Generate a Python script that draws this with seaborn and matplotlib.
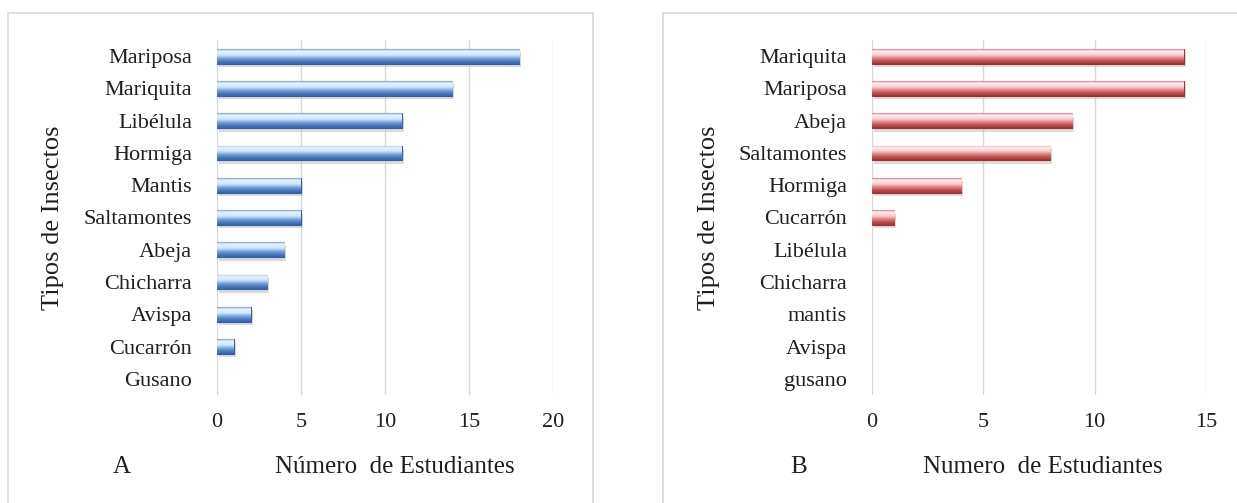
import numpy as np
import pandas as pd
import matplotlib
matplotlib.use("Agg")
import matplotlib.pyplot as plt
import matplotlib.patheffects as pe
from matplotlib.colors import LinearSegmentedColormap
from matplotlib.patches import Rectangle
import seaborn as sns

# panel A
insectos_a = ['Mariposa', 'Mariquita', 'Libélula', 'Hormiga', 'Mantis', 'Saltamontes',
              'Abeja', 'Chicharra', 'Avispa', 'Cucarrón', 'Gusano']
estudiantes_a = [18, 14, 11, 11, 5, 5, 4, 3, 2, 1, 0]
ticks_a = [0, 5, 10, 15, 20]

# panel B
insectos_b = ['Mariquita', 'Mariposa', 'Abeja', 'Saltamontes', 'Hormiga', 'Cucarrón',
              'Libélula', 'Chicharra', 'mantis', 'Avispa', 'gusano']
estudiantes_b = [14, 14, 9, 8, 4, 1, 0, 0, 0, 0, 0]
ticks_b = [0, 5, 10, 15]

sns.set_style('white')
plt.rcParams['font.family'] = ['Liberation Serif', 'DejaVu Serif']
txt = '#1f1f1f'

blue = LinearSegmentedColormap.from_list(
    'azul', [(0, '#6f9ad4'), (0.12, '#e4f5ff'), (0.4, '#cfe9fc'),
             (0.6, '#7fa9e0'), (0.8, '#4d7fc2'), (1, '#3863a3')])
red = LinearSegmentedColormap.from_list(
    'rojo', [(0, '#d67a78'), (0.12, '#fff1f1'), (0.4, '#f6cccc'),
             (0.6, '#dd8583'), (0.8, '#c24e4b'), (1, '#9c3734')])

fig = plt.figure(figsize=(12.37, 5.03), dpi=100)

# light frames around each chart
fig.patches.append(Rectangle((8 / 1237, -0.05), 585 / 1237, 1.05 - 13 / 503,
                             transform=fig.transFigure, fill=False,
                             edgecolor='#d9d9d9', lw=1.2))
fig.patches.append(Rectangle((663 / 1237, -0.05), 0.5, 1.05 - 13 / 503,
                             transform=fig.transFigure, fill=False,
                             edgecolor='#d9d9d9', lw=1.2))

ax_a = fig.add_axes([217 / 1237, 1 - 395 / 503, 336 / 1237, 355 / 503])
ax_b = fig.add_axes([872 / 1237, 1 - 395 / 503, 334 / 1237, 355 / 503])

paneles = [
    (ax_a, insectos_a, estudiantes_a, ticks_a, blue, '#4d7fc2', '#33609e', 'A',
     'Número  de Estudiantes', 0.53, -0.283),
    (ax_b, insectos_b, estudiantes_b, ticks_b, red, '#c24e4b', '#953431', 'B',
     'Numero  de Estudiantes', 0.51, -0.22),
]

for ax, cats, vals, ticks, cmap, base, dark, letra, xlab, xl_x, letra_x in paneles:
    df = pd.DataFrame({'insecto': cats, 'n': vals})
    sns.barplot(data=df, x='n', y='insecto', orient='h', color=base,
                width=0.46, ax=ax, saturation=1)
    grad = np.linspace(0, 1, 64).reshape(-1, 1)
    for p in ax.patches:
        if p.get_width() <= 0:
            p.set_visible(False)
            continue
        p.set_edgecolor(dark)
        p.set_linewidth(0.8)
        p.set_zorder(2)
        p.set_path_effects([pe.SimplePatchShadow(offset=(1.5, -2.5), shadow_rgbFace='#9a9a9a',
                                                 alpha=0.35), pe.Normal()])
        b = p.get_bbox()
        im = ax.imshow(grad, cmap=cmap, extent=[b.x0, b.x1, b.y0, b.y1], origin='lower',
                       aspect='auto', zorder=3, interpolation='bicubic')
        im.set_clip_path(p)
    ax.set_xlim(0, ticks[-1])
    ax.set_ylim(len(cats) - 0.5, -0.5)
    ax.set_xticks(ticks)
    ax.grid(axis='x', color='#d9d9d9', lw=1)
    ax.grid(axis='y', visible=False)
    ax.set_axisbelow(True)
    sns.despine(ax=ax, left=True, bottom=True)
    ax.tick_params(axis='x', length=0, pad=13, labelsize=16, labelcolor=txt)
    ax.tick_params(axis='y', length=0, pad=18, labelsize=16, labelcolor=txt)
    ax.set_xlabel(xlab, fontsize=18, color=txt, va='center')
    ax.xaxis.set_label_coords(xl_x, -0.203)
    ax.set_ylabel('Tipos de Insectos', fontsize=19, color=txt, va='center')
    ax.yaxis.set_label_coords(-0.488, 0.5)
    ax.text(letra_x, -0.203, letra, transform=ax.transAxes, fontsize=18,
            color=txt, ha='center', va='center')

fig.savefig('out.png', dpi=100)
